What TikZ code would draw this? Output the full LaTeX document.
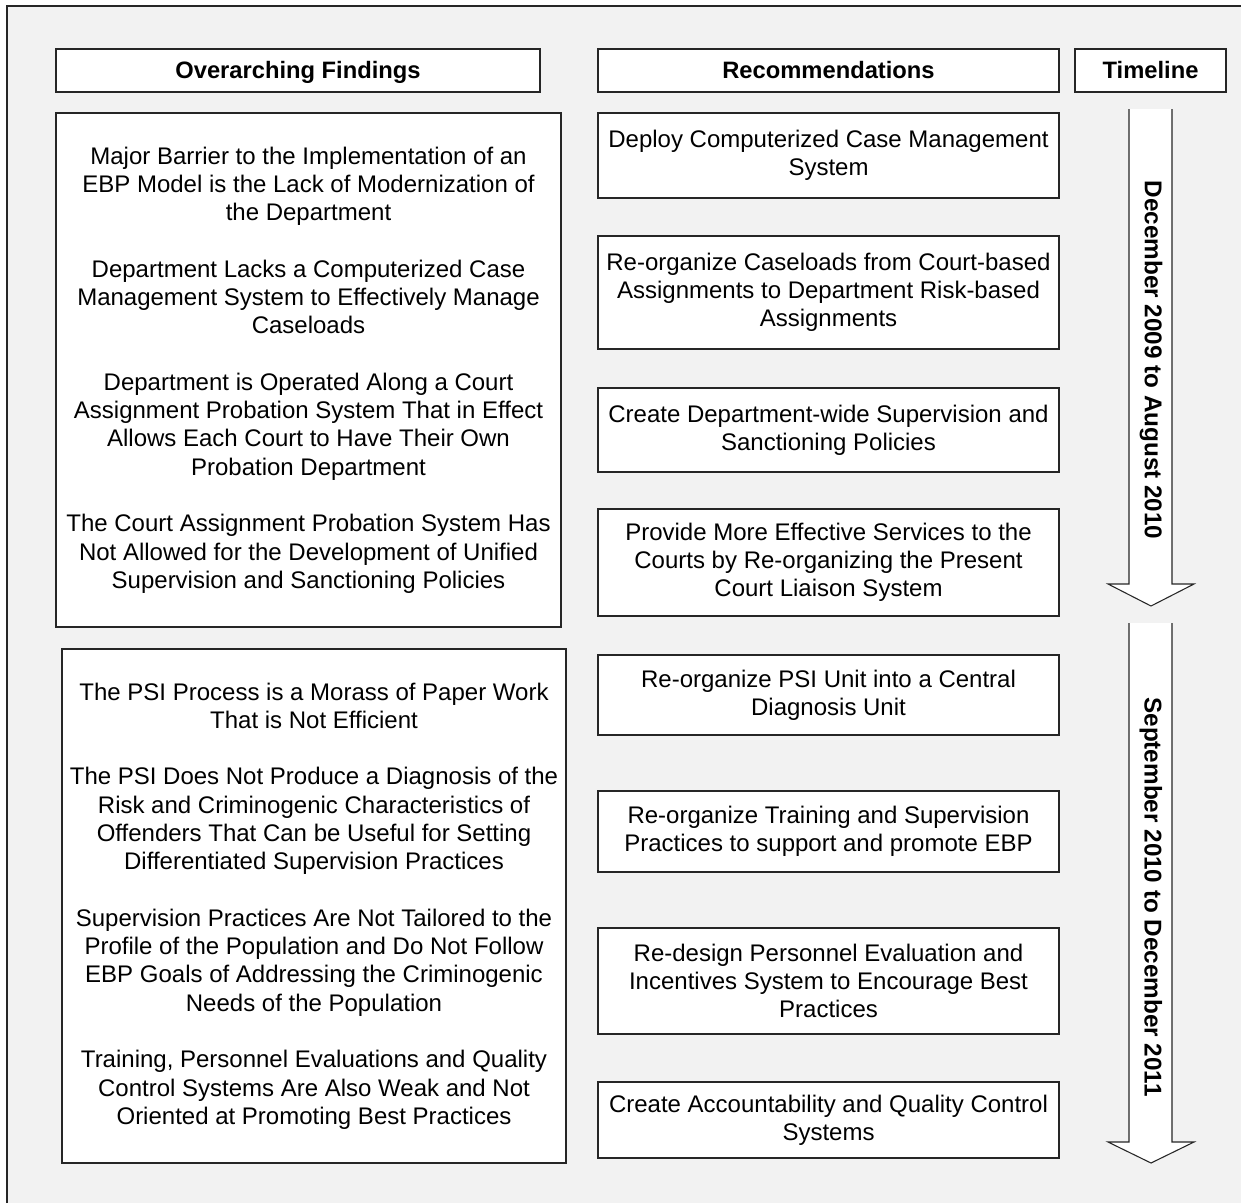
\documentclass[tikz,border=0pt]{standalone}
\usepackage{fontspec}
\setmainfont{Liberation Sans}
\definecolor{panel}{HTML}{F2F2F2}
\definecolor{edge}{HTML}{262626}
\begin{document}
\begin{tikzpicture}[x=0.75pt,y=-0.75pt,
  box/.style={draw=edge,line width=0.8pt,fill=white,inner sep=0pt,outer sep=0pt,
    align=center,font=\fontsize{18}{21.2}\selectfont},
  hdr/.style={box,font=\fontsize{17.8}{20}\selectfont\bfseries,text height=14pt,text depth=2pt},
  period/.style={rotate=-90,font=\fontsize{18.2}{20}\selectfont\bfseries,inner sep=0pt},
  shaft/.style={fill=white,draw=edge,line width=0.8pt,line join=miter}]
\useasboundingbox (0,0) rectangle (1241,1203);
% panel background with its left and top rule
\fill[panel] (7,6) rectangle (1241,1203);
\draw[line width=0.8pt,edge] (7,1203) -- (7,6) -- (1241,6);

% column headings
\node[hdr,minimum width={484*0.75pt},minimum height={43*0.75pt}] (hF) at (298,70.5) {Overarching Findings};
\node[hdr,minimum width={461*0.75pt},minimum height={43*0.75pt}] (hR) at (828.5,70.5) {Recommendations};
\node[hdr,minimum width={151*0.75pt},minimum height={43*0.75pt}] (hT) at (1150.5,70.5) {Timeline};

% findings
\node[box,minimum width={505*0.75pt},minimum height={514*0.75pt}] (f1) at (308.5,370) {%
Major Barrier to the Implementation of an\\EBP Model is the Lack of Modernization of\\the Department\\[21.3pt]
Department Lacks a Computerized Case\\Management System to Effectively Manage\\Caseloads\\[21.3pt]
Department is Operated Along a Court\\Assignment Probation System That in Effect\\Allows Each Court to Have Their Own\\Probation Department\\[21.3pt]
The Court Assignment Probation System Has\\Not Allowed for the Development of Unified\\Supervision and Sanctioning Policies};
\node[box,minimum width={504*0.75pt},minimum height={514*0.75pt}] (f2) at (314,906) {%
The PSI Process is a Morass of Paper Work\\That is Not Efficient\\[21.3pt]
The PSI Does Not Produce a Diagnosis of the\\Risk and Criminogenic Characteristics of\\Offenders That Can be Useful for Setting\\Differentiated Supervision Practices\\[21.3pt]
Supervision Practices Are Not Tailored to the\\Profile of the Population and Do Not Follow\\EBP Goals of Addressing the Criminogenic\\Needs of the Population\\[21.3pt]
Training, Personnel Evaluations and Quality\\Control Systems Are Also Weak and Not\\Oriented at Promoting Best Practices};

% recommendations
\node[box,minimum width={461*0.75pt},minimum height={85*0.75pt}] (r1) at (828.5,155.5) {Deploy Computerized Case Management\\System};
\node[box,minimum width={461*0.75pt},minimum height={113*0.75pt}] (r2) at (828.5,292.5) {Re-organize Caseloads from Court-based\\Assignments to Department Risk-based\\Assignments};
\node[box,minimum width={461*0.75pt},minimum height={84*0.75pt}] (r3) at (828.5,430) {Create Department-wide Supervision and\\Sanctioning Policies};
\node[box,minimum width={461*0.75pt},minimum height={107*0.75pt}] (r4) at (828.5,562.5) {Provide More Effective Services to the\\Courts by Re-organizing the Present\\Court Liaison System};
\node[box,minimum width={461*0.75pt},minimum height={80*0.75pt}] (r5) at (828.5,695) {Re-organize PSI Unit into a Central\\Diagnosis Unit};
\node[box,minimum width={461*0.75pt},minimum height={81*0.75pt}] (r6) at (828.5,831.5) {Re-organize Training and Supervision\\Practices to support and promote EBP};
\node[box,minimum width={461*0.75pt},minimum height={106*0.75pt}] (r7) at (828.5,981) {Re-design Personnel Evaluation and\\Incentives System to Encourage Best\\Practices};
\node[box,minimum width={461*0.75pt},minimum height={76*0.75pt}] (r8) at (828.5,1120) {Create Accountability and Quality Control\\Systems};

% timeline block arrows (open at the top)
\fill[white] (1129,109) -- (1129,584) -- (1108,584) -- (1151,606) -- (1194,584) -- (1172,584) -- (1172,109) -- cycle;
\draw[shaft] (1129,109) -- (1129,584) -- (1108,584) -- (1151,606) -- (1194,584) -- (1172,584) -- (1172,109);
\fill[white] (1129,623) -- (1129,1142) -- (1108,1142) -- (1151,1163) -- (1194,1142) -- (1172,1142) -- (1172,623) -- cycle;
\draw[shaft] (1129,623) -- (1129,1142) -- (1108,1142) -- (1151,1163) -- (1194,1142) -- (1172,1142) -- (1172,623);
\node[period] (p1) at (1151,360) {December 2009 to August 2010};
\node[period] (p2) at (1151,897) {September 2010 to December 2011};
\end{tikzpicture}
\end{document}
